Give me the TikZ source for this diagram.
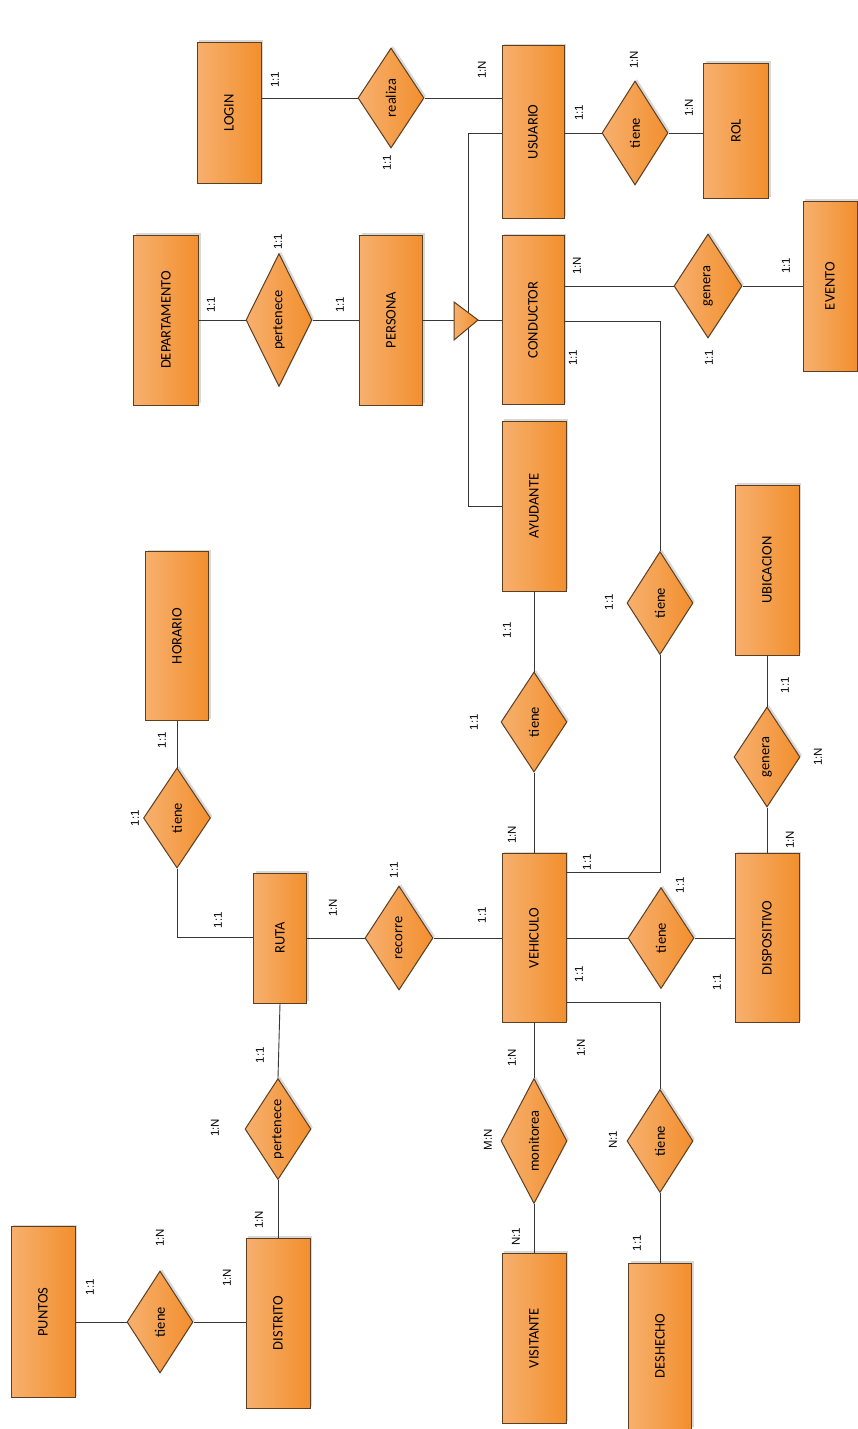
\documentclass[tikz,border=0pt]{standalone}
\usepackage{fontspec}
\usepackage{graphicx}
\setmainfont{Carlito}
\newfontfamily\lblfont{Liberation Sans}
\usetikzlibrary{shapes.geometric,shadows}
\definecolor{ol}{RGB}{247,176,110}
\definecolor{orr}{RGB}{242,143,46}
\definecolor{bd}{RGB}{92,62,32}
\definecolor{ln}{RGB}{55,55,55}
\newcommand\vtxt[1]{\rotatebox{90}{#1}}
\tikzset{
  shp/.style={draw=bd, line width=1pt, left color=ol, right color=orr, inner sep=0pt,
    font=\fontsize{14.5}{16}\selectfont,
    drop shadow={shadow xshift=2pt, shadow yshift=2pt, opacity=0.3, fill=gray}},
  ent/.style={shp, rectangle, minimum width=64pt, minimum height=170pt},
  rel/.style={shp, diamond, aspect=0.6, minimum width=66pt, minimum height=102pt},
  card/.style={font=\lblfont\fontsize{11.5}{13}\selectfont, rotate=90, inner sep=0pt},
  conn/.style={draw=ln, line width=0.9pt},
}
\begin{document}
\begin{tikzpicture}[x=1pt,y=-1pt]
\useasboundingbox[fill=white] (0,0) rectangle (858,1429);
% entities
\node[ent, minimum height=141pt] (login) at (229,113) {\vtxt{LOGIN}};
\node[ent, minimum width=62pt, minimum height=172pt] (usuario) at (533,132) {\vtxt{USUARIO}};
\node[ent, minimum width=65pt, minimum height=135pt] (rol) at (736,131) {\vtxt{ROL}};
\node[ent, minimum width=65pt] (depto) at (166,320) {\vtxt{DEPARTAMENTO}};
\node[ent, minimum width=63pt] (persona) at (391,320) {\vtxt{PERSONA}};
\node[ent, minimum width=62pt, minimum height=169pt] (conductor) at (533,320) {\vtxt{CONDUCTOR}};
\node[ent, minimum width=54pt] (evento) at (830,286) {\vtxt{EVENTO}};
\node[ent] (ayudante) at (534,506) {\vtxt{AYUDANTE}};
\node[ent, minimum width=63pt, minimum height=169pt] (horario) at (177,636) {\vtxt{HORARIO}};
\node[ent] (ubicacion) at (767,570) {\vtxt{UBICACION}};
\node[ent, minimum width=53pt, minimum height=130pt] (ruta) at (280,938) {\vtxt{RUTA}};
\node[ent, minimum height=169pt] (vehiculo) at (534,938) {\vtxt{VEHICULO}};
\node[ent, minimum height=169pt] (dispositivo) at (767,938) {\vtxt{DISPOSITIVO}};
\node[ent] (visitante) at (534,1338) {\vtxt{VISITANTE}};
\node[ent, minimum width=63pt, minimum height=166pt] (deshecho) at (660,1346) {\vtxt{DESHECHO}};
\node[ent, minimum height=171pt] (puntos) at (43,1312) {\vtxt{PUNTOS}};
\node[ent] (distrito) at (278,1323) {\vtxt{DISTRITO}};
% relationships
\node[rel, minimum height=100pt] (realiza) at (391,98) {\vtxt{realiza}};
\node[rel, minimum height=104pt] (tieneRol) at (635,133) {\vtxt{tiene}};
\node[rel, minimum height=133pt] (pert1) at (279,320) {\vtxt{pertenece}};
\node[rel, minimum width=68pt, minimum height=104pt] (genera1) at (708,286) {\vtxt{genera}};
\node[rel, minimum height=103pt] (tieneCV) at (660,603) {\vtxt{tiene}};
\node[rel, minimum height=100pt] (tieneAV) at (534,722) {\vtxt{tiene}};
\node[rel, minimum height=100pt] (generaUD) at (767,757) {\vtxt{genera}};
\node[rel, minimum width=67pt, minimum height=100pt] (tieneRH) at (177,818) {\vtxt{tiene}};
\node[rel, minimum width=68pt, minimum height=104pt] (recorre) at (399,938) {\vtxt{recorre}};
\node[rel, minimum height=101pt] (tieneVD) at (661,938) {\vtxt{tiene}};
\node[rel, minimum height=125pt] (monitorea) at (534,1141) {\vtxt{monitorea}};
\node[rel, minimum height=103pt] (tieneVDe) at (660,1141) {\vtxt{tiene}};
\node[rel, minimum height=101pt] (pertRD) at (278,1129) {\vtxt{pertenece}};
\node[rel, minimum height=102pt] (tienePD) at (160,1322) {\vtxt{tiene}};
% helper coordinates
\coordinate (hb1) at (468,133);
\coordinate (hb2) at (468,506);
\coordinate (trib) at (454,320);
\coordinate (tria) at (478,320);
\coordinate (cc1) at (660,321);
\coordinate (vc1) at (660,872);
\coordinate (vd1) at (660,1002);
\coordinate (rh1) at (177,937);
% connectors
\draw[conn] (realiza.west) -- (realiza.west -| login.east);
\draw[conn] (realiza.east) -- (realiza.east -| usuario.west);
\draw[conn] (tieneRol.west -| usuario.east) -- (tieneRol.west);
\draw[conn] (tieneRol.east) -- (tieneRol.east -| rol.west);
\draw[conn] (hb1 -| usuario.west) -- (hb1) -- (hb2) -- (hb2 -| ayudante.west);
\draw[conn] (depto.east) -- (pert1.west);
\draw[conn] (pert1.east) -- (persona.west);
\draw[conn] (persona.east) -- (trib);
\draw[conn] (tria) -- (conductor.west);
\draw[conn] (genera1.west -| conductor.east) -- (genera1.west);
\draw[conn] (genera1.east) -- (genera1.east -| evento.west);
\draw[conn] (cc1 -| conductor.east) -- (cc1) -- (tieneCV.north);
\draw[conn] (tieneCV.south) -- (vc1) -- (vc1 -| vehiculo.east);
\draw[conn] (ayudante.south) -- (tieneAV.north);
\draw[conn] (tieneAV.south) -- (vehiculo.north);
\draw[conn] (ubicacion.south) -- (generaUD.north);
\draw[conn] (generaUD.south) -- (dispositivo.north);
\draw[conn] (horario.south) -- (tieneRH.north);
\draw[conn] (tieneRH.south) -- (rh1) -- (rh1 -| ruta.west);
\draw[conn] (ruta.east) -- (recorre.west);
\draw[conn] (recorre.east) -- (vehiculo.west);
\draw[conn] (vehiculo.east) -- (tieneVD.west);
\draw[conn] (tieneVD.east) -- (dispositivo.west);
\draw[conn] (vd1 -| vehiculo.east) -- (vd1) -- (tieneVDe.north);
\draw[conn] (tieneVDe.south) -- (deshecho.north);
\draw[conn] (vehiculo.south) -- (monitorea.north);
\draw[conn] (monitorea.south) -- (visitante.north);
\draw[conn] (ruta.south) -- (pertRD.north);
\draw[conn] (pertRD.south) -- (distrito.north);
\draw[conn] (tienePD.west -| puntos.east) -- (tienePD.west);
\draw[conn] (tienePD.east) -- (tienePD.east -| distrito.west);
% ISA triangle
\draw[draw=bd, line width=1pt, left color=ol, right color=orr] (454,302) -- (tria) -- (454,340) -- cycle;
% cardinalities
\node[card] (c1) at (275,80) {1:1};
\node[card] (c2) at (387,163) {1:1};
\node[card] (c3) at (482,70) {1:N};
\node[card] (c4) at (579,113) {1:1};
\node[card] (c5) at (634,60) {1:N};
\node[card] (c6) at (689,108) {1:N};
\node[card] (c7) at (211,305) {1:1};
\node[card] (c8) at (278,242) {1:1};
\node[card] (c9) at (340,305) {1:1};
\node[card] (c10) at (577,266) {1:N};
\node[card] (c11) at (573,358) {1:1};
\node[card] (c12) at (709,358) {1:1};
\node[card] (c13) at (786,266) {1:1};
\node[card] (c14) at (609,602) {1:1};
\node[card] (c15) at (507,630) {1:1};
\node[card] (c16) at (474,722) {1:1};
\node[card] (c17) at (785,685) {1:1};
\node[card] (c18) at (818,757) {1:N};
\node[card] (c19) at (790,840) {1:N};
\node[card] (c20) at (162,740) {1:1};
\node[card] (c21) at (135,818) {1:1};
\node[card] (c22) at (218,920) {1:1};
\node[card] (c23) at (333,908) {1:N};
\node[card] (c24) at (394,870) {1:1};
\node[card] (c25) at (482,915) {1:1};
\node[card] (c26) at (512,835) {1:N};
\node[card] (c27) at (587,862) {1:1};
\node[card] (c28) at (680,885) {1:1};
\node[card] (c29) at (717,982) {1:1};
\node[card] (c30) at (579,974) {1:1};
\node[card] (c31) at (581,1048) {1:N};
\node[card] (c32) at (512,1058) {1:N};
\node[card] (c33) at (488,1140) {M:N};
\node[card] (c34) at (516,1237) {N:1};
\node[card] (c35) at (613,1140) {N:1};
\node[card] (c36) at (637,1243) {1:1};
\node[card] (c37) at (90,1287) {1:1};
\node[card] (c38) at (160,1238) {1:N};
\node[card] (c39) at (227,1278) {1:N};
\node[card] (c40) at (259,1220) {1:N};
\node[card] (c41) at (215,1128) {1:N};
\node[card] (c42) at (260,1055) {1:1};
\end{tikzpicture}
\end{document}
